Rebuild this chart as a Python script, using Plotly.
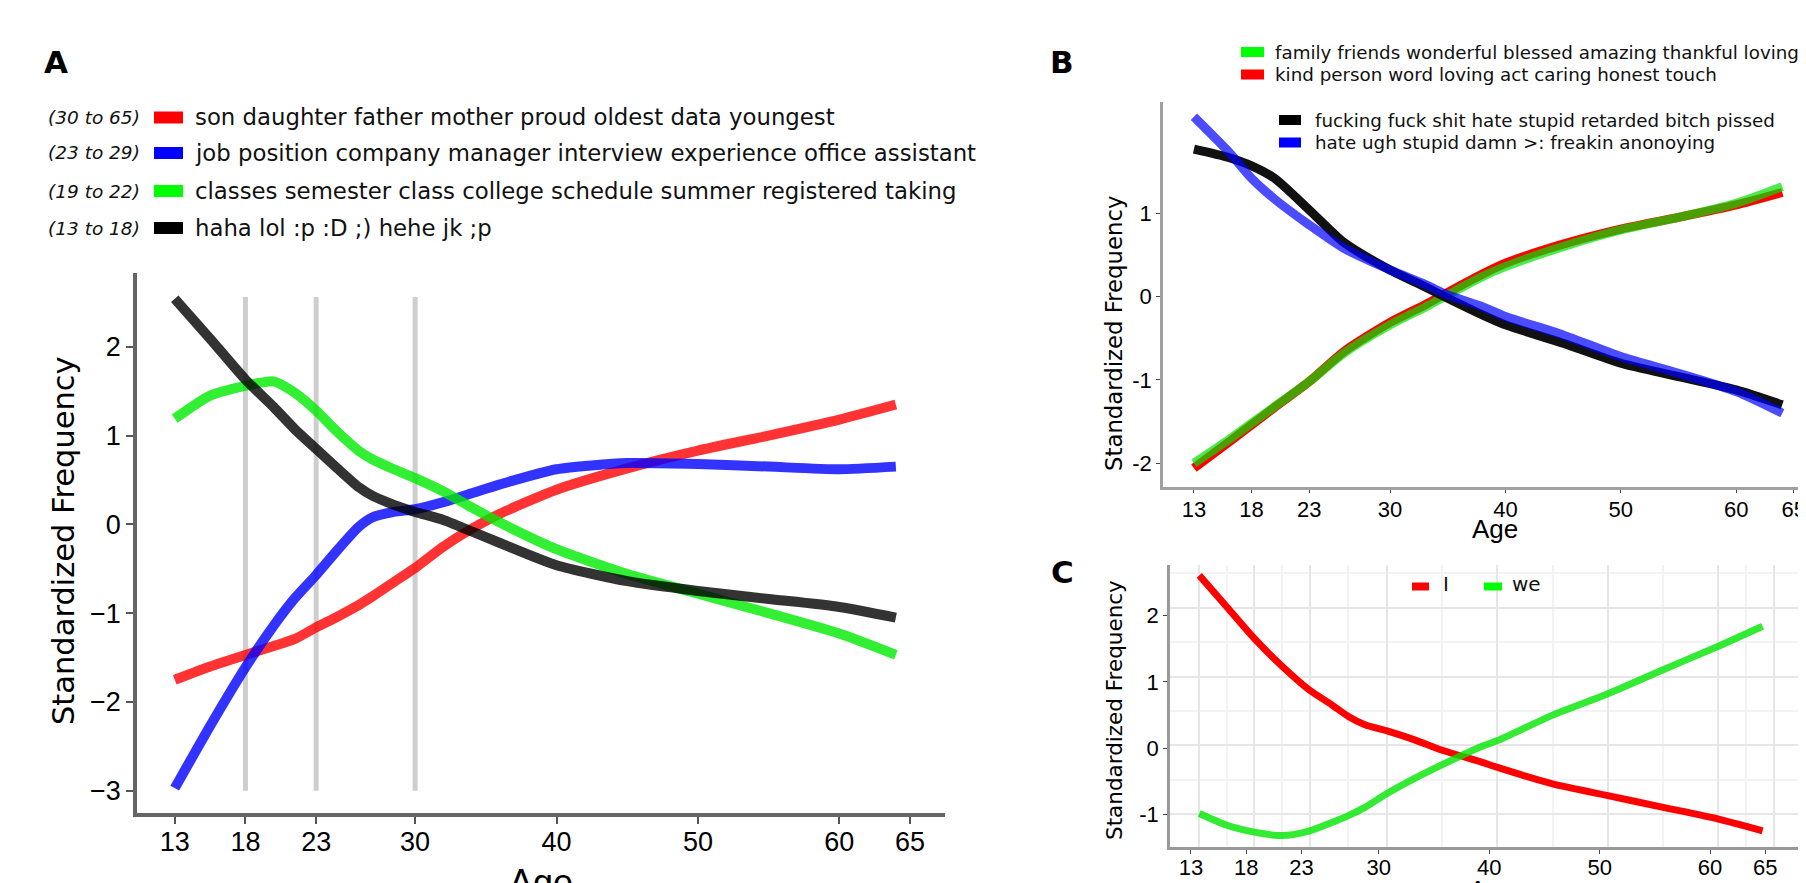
import plotly.graph_objects as go

W, H = 1806, 883
OX, OY = 8, 8  # page body offset of the figure

# ---------------- data ----------------
tick_ages = [13, 18, 23, 30, 40, 50, 60, 65]
tick_age_text = ["13", "18", "23", "30", "40", "50", "60", "65"]
minor_ages = [15.5, 20.5, 26.5, 35, 45, 55, 62.5]

# Panel A
ages_A = [13, 15.5, 18, 20, 21.5, 23, 24.5, 26, 27, 28.5, 30, 32, 34, 36, 40, 45, 50, 55, 60, 64]
red_A = [-1.75, -1.60, -1.47, -1.37, -1.29, -1.16, -1.04, -0.91, -0.81, -0.65, -0.49, -0.25, -0.05, 0.12,
         0.39, 0.63, 0.83, 1.00, 1.18, 1.35]
blue_A = [-2.97, -2.27, -1.61, -1.14, -0.83, -0.57, -0.29, -0.03, 0.08, 0.14, 0.17, 0.25, 0.35, 0.45,
          0.62, 0.69, 0.68, 0.65, 0.62, 0.65]
green_A = [1.19, 1.45, 1.56, 1.61, 1.48, 1.28, 1.04, 0.83, 0.73, 0.62, 0.52, 0.37, 0.19, 0.02,
           -0.28, -0.56, -0.78, -1.00, -1.23, -1.47]
black_A = [2.54, 2.09, 1.63, 1.32, 1.07, 0.85, 0.63, 0.42, 0.32, 0.22, 0.14, 0.05, -0.08, -0.21,
           -0.46, -0.64, -0.75, -0.84, -0.93, -1.05]
boundary_ages = [18, 23, 30]
boundary_span = [-3.0, 2.56]
yticks_A = [-3, -2, -1, 0, 1, 2]
legend_A_ranges = ["(30 to 65)", "(23 to 29)", "(19 to 22)", "(13 to 18)"]
legend_A_words = [
    "son daughter father mother proud oldest data youngest",
    "job position company manager interview experience office assistant",
    "classes semester class college schedule summer registered taking",
    "haha lol :p :D ;) hehe jk ;p",
]

# Panel B
ages_B = [13, 16, 18, 20, 23, 26, 30, 33, 35, 38, 40, 45, 50, 55, 60, 64]
family_B = [-2.00, -1.72, -1.52, -1.32, -1.02, -0.68, -0.34, -0.13, 0.02, 0.24, 0.36, 0.60, 0.80, 0.95, 1.12, 1.32]
kind_B = [-2.06, -1.75, -1.54, -1.33, -1.02, -0.66, -0.31, -0.10, 0.05, 0.27, 0.40, 0.63, 0.81, 0.95, 1.10, 1.25]
swear_B = [1.77, 1.67, 1.57, 1.42, 1.04, 0.65, 0.32, 0.12, -0.02, -0.22, -0.34, -0.56, -0.80, -0.96, -1.12, -1.30]
annoy_B = [2.16, 1.74, 1.42, 1.17, 0.86, 0.58, 0.32, 0.15, 0.02, -0.12, -0.24, -0.46, -0.72, -0.92, -1.14, -1.40]
yticks_B = [-2, -1, 0, 1]
yticks_B_text = ["-2", "-1", "0", "1"]
legend_B_top = ["family friends wonderful blessed amazing thankful loving",
                "kind person word loving act caring honest touch"]
legend_B_bottom = ["fucking fuck shit hate stupid retarded bitch pissed",
                   "hate ugh stupid damn >: freakin anonoying"]

# Panel C
ages_C = [13, 15.5, 18, 20.5, 23, 25, 26.5, 28, 30, 32.5, 35, 38.5, 40, 45, 50, 55, 60, 64]
I_C = [2.47, 2.01, 1.55, 1.15, 0.80, 0.59, 0.42, 0.30, 0.21, 0.08, -0.07, -0.24, -0.32, -0.56, -0.73, -0.90, -1.07, -1.24]
we_C = [-0.99, -1.16, -1.26, -1.31, -1.24, -1.12, -1.02, -0.90, -0.70, -0.48, -0.28, -0.02, 0.07, 0.44, 0.75, 1.10, 1.44, 1.73]
yticks_C = [-1, 0, 1, 2]
yticks_C_text = ["-1", "0", "1", "2"]
minor_C_y = [-0.5, 0.5, 1.5, 2.5]
legend_C = ["I", "we"]


def px(x):
    return (x - OX) / W


def py(y):
    return 1 - (y - OY) / H


TICKF = "Liberation Sans, Arial, sans-serif"
TEXTF = "DejaVu Sans, sans-serif"

fig = go.Figure()

# ---- Panel A traces ----
A_colors = ["rgba(255,0,0,0.8)", "rgba(0,0,255,0.8)", "rgba(0,235,0,0.8)", "rgba(0,0,0,0.8)"]
for ys, c in zip([red_A, blue_A, green_A, black_A], A_colors):
    fig.add_trace(go.Scatter(x=ages_A, y=ys, mode="lines", showlegend=False, hoverinfo="skip",
                             line=dict(color=c, width=10, shape="spline", smoothing=0.6),
                             xaxis="x", yaxis="y"))

# ---- Panel B traces ----
B_series = [(kind_B, "#ff0000"), (family_B, "rgba(0,225,0,0.7)"),
            (swear_B, "#111111"), (annoy_B, "rgba(0,0,255,0.7)")]
for ys, c in B_series:
    fig.add_trace(go.Scatter(x=ages_B, y=ys, mode="lines", showlegend=False, hoverinfo="skip",
                             line=dict(color=c, width=9, shape="spline", smoothing=0.7),
                             xaxis="x2", yaxis="y2"))

# ---- Panel C traces ----
for ys, c in [(I_C, "#ff0000"), (we_C, "rgba(0,230,0,0.8)")]:
    fig.add_trace(go.Scatter(x=ages_C, y=ys, mode="lines", showlegend=False, hoverinfo="skip",
                             line=dict(color=c, width=7, shape="spline", smoothing=0.7),
                             xaxis="x3", yaxis="y3"))
# empty trace to realise the tick-axis overlay of panel C
fig.add_trace(go.Scatter(x=[], y=[], showlegend=False, xaxis="x4", yaxis="y4"))

shapes = []
annotations = []

# boundaries in A
for a in boundary_ages:
    shapes.append(dict(type="line", xref="x", yref="y", x0=a, x1=a, y0=boundary_span[0], y1=boundary_span[1],
                       line=dict(color="rgba(190,190,190,0.75)", width=5), layer="below"))

# ---- Legend A ----
A_sw = ["#ff0000", "#0000ff", "#00ff00", "#000000"]
rows_A = [117.5, 153, 191, 228]
for r, rng, words, c in zip(rows_A, legend_A_ranges, legend_A_words, A_sw):
    shapes.append(dict(type="rect", xref="paper", yref="paper", x0=px(154), x1=px(183),
                       y0=py(r + 6), y1=py(r - 6), fillcolor=c, line=dict(width=0)))
    annotations.append(dict(x=px(142), y=py(r), xref="paper", yref="paper", xanchor="right", yanchor="middle",
                            text="<i>%s</i>" % rng, showarrow=False, font=dict(family=TEXTF, size=18.5, color="#111")))
    annotations.append(dict(x=px(193), y=py(r), xref="paper", yref="paper", xanchor="left", yanchor="middle",
                            text=words, showarrow=False, font=dict(family=TEXTF, size=22.8, color="#111")))

# ---- Legend B ----
for r, words, c in zip([52, 74.5], legend_B_top, ["#00ff00", "#ff0000"]):
    shapes.append(dict(type="rect", xref="paper", yref="paper", x0=px(1241), x1=px(1264),
                       y0=py(r + 5), y1=py(r - 5), fillcolor=c, line=dict(width=0)))
    annotations.append(dict(x=px(1273), y=py(r), xref="paper", yref="paper", xanchor="left", yanchor="middle",
                            text=words, showarrow=False, font=dict(family=TEXTF, size=18.3, color="#111")))
for r, words, c in zip([120, 142.5], legend_B_bottom, ["#000000", "#0000ff"]):
    shapes.append(dict(type="rect", xref="paper", yref="paper", x0=px(1279), x1=px(1301),
                       y0=py(r + 5), y1=py(r - 5), fillcolor=c, line=dict(width=0)))
    annotations.append(dict(x=px(1313), y=py(r), xref="paper", yref="paper", xanchor="left", yanchor="middle",
                            text=words, showarrow=False, font=dict(family=TEXTF, size=18.3, color="#111")))

# ---- Legend C ----
for (sx0, sx1, tx), words, c in zip([(1412, 1429, 1441), (1484, 1502, 1510)], legend_C, ["#ff0000", "#00ff00"]):
    shapes.append(dict(type="rect", xref="paper", yref="paper", x0=px(sx0), x1=px(sx1),
                       y0=py(590.5), y1=py(582.5), fillcolor=c, line=dict(width=0)))
    annotations.append(dict(x=px(tx), y=py(584), xref="paper", yref="paper", xanchor="left", yanchor="middle",
                            text=words, showarrow=False, font=dict(family=TEXTF, size=20, color="#111")))

# ---- panel letters ----
for t, x, y in [("A", 56, 62), ("B", 1062, 62), ("C", 1062, 572)]:
    annotations.append(dict(x=px(x), y=py(y), xref="paper", yref="paper", xanchor="center", yanchor="middle",
                            text="<b>%s</b>" % t, showarrow=False, font=dict(family=TEXTF, size=31, color="#000")))

# ---- axis titles ----
for x, y, s in [(63, 541, 30.5), (1114, 333, 22.8), (1114, 710, 21.5)]:
    annotations.append(dict(x=px(x), y=py(y), xref="paper", yref="paper", xanchor="center", yanchor="middle",
                            text="Standardized Frequency", textangle=-90, showarrow=False,
                            font=dict(family=TEXTF, size=s, color="#000")))
for x, y, s in [(541, 882, 36), (1495, 529, 26), (1492, 890, 26)]:
    annotations.append(dict(x=px(x), y=py(y), xref="paper", yref="paper", xanchor="center", yanchor="middle",
                            text="Age", showarrow=False, font=dict(family=TICKF, size=s, color="#000")))

fig.update_layout(
    width=W, height=H, margin=dict(l=0, r=0, t=0, b=0),
    paper_bgcolor="white", plot_bgcolor="white", showlegend=False,
    shapes=shapes, annotations=annotations,
    # Panel A
    xaxis=dict(domain=[px(137), px(944.5)], anchor="y", range=[10.33, 67.44],
               tickmode="array", tickvals=tick_ages, ticktext=tick_age_text,
               showgrid=False, zeroline=False, showline=True, linecolor="#666", linewidth=3.5,
               ticks="outside", ticklen=7, tickwidth=1.5, tickcolor="#555", ticklabelstandoff=-5,
               tickfont=dict(family=TICKF, size=27, color="#000")),
    yaxis=dict(domain=[py(813), py(273)], anchor="x", range=[-3.25, 2.83],
               tickmode="array", tickvals=yticks_A,
               showgrid=False, zeroline=False, showline=True, linecolor="#666", linewidth=3.5,
               ticks="outside", ticklen=7, tickwidth=1.5, tickcolor="#555",
               tickfont=dict(family=TICKF, size=27, color="#000")),
    # Panel B
    xaxis2=dict(domain=[px(1163), 1.0], anchor="y2", range=[10.32, 66.75],
                tickmode="array", tickvals=tick_ages, ticktext=tick_age_text,
                showgrid=False, zeroline=False, showline=True, linecolor="#a0a0a0", linewidth=2.5,
                ticks="outside", ticklen=3, tickwidth=1, tickcolor="#444", ticklabelstandoff=-2,
                tickfont=dict(family=TICKF, size=22, color="#000")),
    yaxis2=dict(domain=[py(487.3), py(101.7)], anchor="x2", range=[-2.29, 2.34],
                tickmode="array", tickvals=yticks_B, ticktext=yticks_B_text,
                showgrid=False, zeroline=False, showline=True, linecolor="#a0a0a0", linewidth=2.5,
                ticks="outside", ticklen=4, tickwidth=1, tickcolor="#444",
                tickfont=dict(family=TICKF, size=22, color="#000")),
    # Panel C data/grid axes
    xaxis3=dict(domain=[px(1170), px(1802)], anchor="y3", range=[10.35, 67.57],
                tickmode="array", tickvals=tick_ages, showticklabels=False, ticks="",
                showgrid=True, gridcolor="#e6e6e6", gridwidth=1.5, zeroline=False, showline=False,
                minor=dict(tickvals=minor_ages, showgrid=True, gridcolor="#f3f3f3", gridwidth=1.5, ticks="")),
    yaxis3=dict(domain=[py(847.3), py(565)], anchor="x3", range=[-1.48, 2.62],
                tickmode="array", tickvals=yticks_C, showticklabels=False, ticks="",
                showgrid=True, gridcolor="#e6e6e6", gridwidth=1.5, zeroline=False, showline=False,
                minor=dict(tickvals=minor_C_y, showgrid=True, gridcolor="#f3f3f3", gridwidth=1.5, ticks="")),
    # Panel C tick axes
    xaxis4=dict(domain=[px(1170), px(1802)], anchor="y4", overlaying="x3", range=[11.1, 68.32],
                tickmode="array", tickvals=tick_ages, ticktext=tick_age_text,
                showgrid=False, zeroline=False, showline=True, linecolor="#999", linewidth=2.5,
                ticks="outside", ticklen=4, tickwidth=1, tickcolor="#444", ticklabelstandoff=-5,
                tickfont=dict(family=TICKF, size=22, color="#000")),
    yaxis4=dict(domain=[py(847.3), py(565)], anchor="x4", overlaying="y3", range=[-1.49, 2.76],
                tickmode="array", tickvals=yticks_C, ticktext=yticks_C_text,
                showgrid=False, zeroline=False, showline=True, linecolor="#999", linewidth=2.5,
                ticks="outside", ticklen=4, tickwidth=1, tickcolor="#444",
                tickfont=dict(family=TICKF, size=22, color="#000")),
)

fig.write_html("out.html")
